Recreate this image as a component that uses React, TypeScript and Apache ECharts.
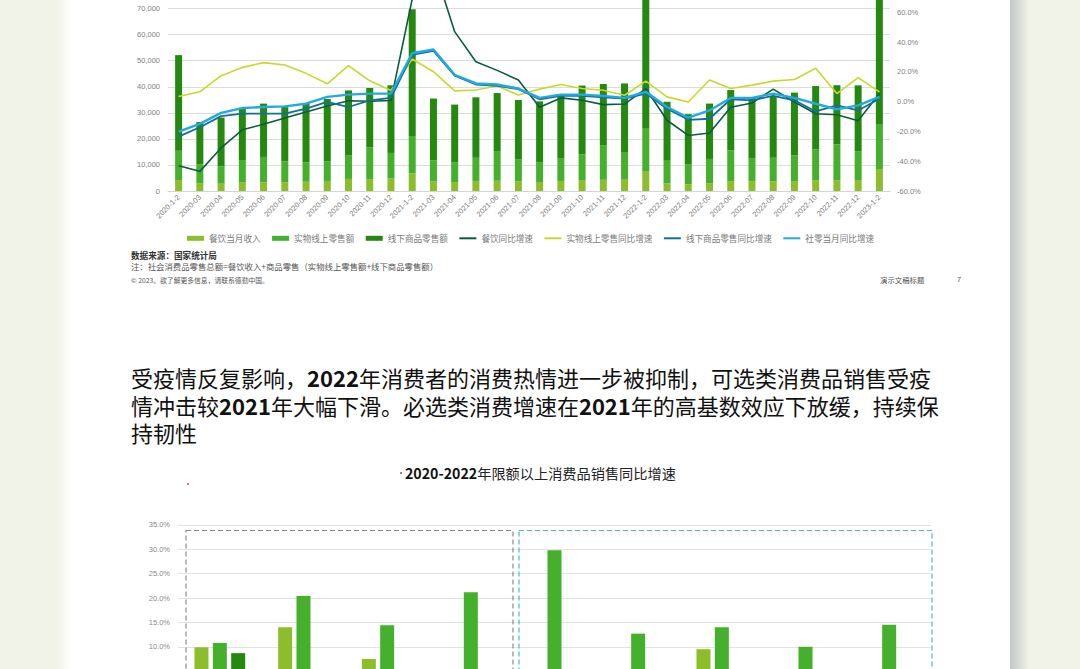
import React, { useEffect, useRef } from 'react';
import * as echarts from 'echarts';

// ---------- Chart 1 data (亿元 / %) ----------
const months = [
  '2020-1-2', '2020-03', '2020-04', '2020-05', '2020-06', '2020-07', '2020-08', '2020-09', '2020-10', '2020-11', '2020-12',
  '2021-1-2', '2021-03', '2021-04', '2021-05', '2021-06', '2021-07', '2021-08', '2021-09', '2021-10', '2021-11', '2021-12',
  '2022-1-2', '2022-03', '2022-04', '2022-05', '2022-06', '2022-07', '2022-08', '2022-09', '2022-10', '2022-11', '2022-12',
  '2023-1-2',
];
const cateringRev = [
  4194, 2862, 2807, 3342, 3325, 3305, 3555, 3852, 4624, 4545, 4803,
  6800, 3660, 3410, 3850, 3920, 3720, 3440, 3800, 4200, 4300, 4600,
  7400, 2900, 2600, 3000, 3800, 3750, 3750, 3800, 4150, 4100, 4200,
  8400,
];
const onlineRetail = [
  11233, 7300, 6660, 8540, 9740, 8020, 7430, 7540, 9140, 12170, 9800,
  14300, 8100, 7570, 8900, 11400, 8330, 7630, 8600, 9900, 13300, 10100,
  16500, 8700, 7540, 9300, 11800, 8650, 9000, 9900, 11800, 13800, 11100,
  17300,
];
const offlineRetail = [
  36703, 16288, 18711, 20091, 20461, 20878, 22586, 23903, 24812, 22799, 25963,
  48637, 23724, 22173, 23195, 22266, 22875, 23325, 24433, 26354, 23443, 26569,
  50526, 22633, 19343, 21247, 23142, 23470, 23508, 24045, 24321, 22700, 25242,
  51367,
];
const cateringYoY = [
  -43.1, -46.8, -31.1, -18.9, -15.2, -11.0, -7.0, -2.9, 0.6, 0.3, 0.8,
  68.9, 91.6, 47.0, 26.8, 21.0, 14.5, -3.8, 2.5, 0.9, -2.0, -1.6,
  8.8, -12.5, -22.7, -21.1, -3.8, -0.9, 8.4, -0.2, -8.1, -8.8, -12.8,
  5.4,
];
const onlineYoY = [
  3.4, 6.6, 17.4, 23.0, 26.2, 24.6, 19.0, 12.0, 24.2, 14.0, 7.5,
  28.6, 20.1, 7.2, 7.8, 10.5, 4.5, 8.4, 11.5, 8.8, 7.7, 4.3,
  13.8, 3.2, -0.2, 14.5, 8.8, 11.1, 13.8, 14.9, 22.4, 5.4, 16.1,
  6.6,
];
const offlineYoY = [
  -23.5, -17.2, -9.7, -8.1, -8.1, -8.1, -4.7, -0.2, -3.6, 0.9, 2.5,
  31.4, 34.1, 17.4, 11.5, 10.6, 8.4, 1.6, 3.9, 3.9, 2.9, 2.0,
  5.4, -4.7, -12.2, -11.5, 1.6, 0.9, 3.9, 0.9, -6.6, -2.5, -5.9,
  2.0,
];
const totalYoY = [
  -20.1, -14.9, -7.5, -4.3, -3.6, -3.2, -1.4, 3.2, 4.7, 5.4, 5.4,
  32.5, 35.0, 18.0, 12.2, 11.5, 8.8, 2.5, 4.7, 4.7, 3.9, 2.5,
  6.6, -3.6, -10.8, -5.9, 2.5, 2.5, 5.4, 2.5, -1.4, -5.2, -2.5,
  3.2,
];

// ---------- Chart 2 data (%) ----------
const goodsCats = ['粮油、食品类', '饮料类', '日用品类', '烟酒类', '金银珠宝类', '服装鞋帽、针纺织品类', '化妆品类', '家用电器和音像器材类', '家具类'];
const growth2020 = [9.9, 14.0, 7.5, -5.0, -4.7, -6.6, 9.5, -3.8, -7.0];
const growth2021 = [10.8, 20.4, 14.4, 21.2, 29.8, 12.7, 14.0, 10.0, 14.5];
const growth2022 = [8.7, 5.3, -0.7, 2.3, -1.1, -6.5, -4.5, -3.9, -7.5];

const C_OLIVE = '#8cbd2a';
const C_GREEN = '#45b02c';
const C_DARK = '#26890f';
const C_TEAL = '#0b5a41';
const C_YELLOW = '#c8d82c';
const C_BLUE = '#11709a';
const C_LBLUE = '#22a9df';

const FONT = '"Liberation Sans", "Noto Sans CJK SC", sans-serif';
const CJK = '"Noto Sans CJK SC", sans-serif';
const LINE_ICON = 'path://M0,0H34V4H0Z';

// the canvas is shifted up by OFF px (and extends below the window) so that
// both plots can run past the visible edges like in the reference crop
const OFF = 30;
const H = 790;

export default function App() {
  const ref = useRef<HTMLDivElement>(null);
  useEffect(() => {
    document.body.style.margin = '0';
    const chart = echarts.init(ref.current!, undefined, { renderer: 'svg' });
    const lineBase = (name: string, data: number[], color: string, width: number, z: number) => ({
      name, type: 'line', xAxisIndex: 0, yAxisIndex: 1, data, symbol: 'none', z,
      lineStyle: { color, width }, itemStyle: { color },
    });
    const Y = (v: number) => v + OFF;
    const para = (text: string, y: number) => ({
      type: 'text', x: 131, y: Y(y),
      style: {
        text, fontSize: 22, lineHeight: 24, fill: '#111', fontFamily: CJK, verticalAlign: 'middle',
        rich: { b: { fontWeight: 'bold', fontSize: 22, lineHeight: 24, fontFamily: CJK, fill: '#111' } },
      },
    });
    const option: any = {
      animation: false,
      backgroundColor: '#f1f2e8',
      textStyle: { fontFamily: FONT },
      grid: [
        { left: 168, top: Y(-17.5), width: 722, height: 208.5 },
        { left: 178, top: Y(524.8), width: 753, height: 219.6 },
      ],
      legend: {
        left: 187, top: Y(234), padding: 0, itemWidth: 17, itemHeight: 5, itemGap: 11.5,
        textStyle: { fontSize: 8.6, color: '#7a7a7a', fontFamily: CJK },
        data: [
          { name: '餐饮当月收入', icon: 'rect' },
          { name: '实物线上零售额', icon: 'rect' },
          { name: '线下商品零售额', icon: 'rect' },
          { name: '餐饮同比增速', icon: LINE_ICON },
          { name: '实物线上零售同比增速', icon: LINE_ICON },
          { name: '线下商品零售同比增速', icon: LINE_ICON },
          { name: '社零当月同比增速', icon: LINE_ICON },
        ],
      },
      xAxis: [
        {
          type: 'category', gridIndex: 0, data: months,
          axisLine: { lineStyle: { color: '#d4d4d4' } }, axisTick: { show: false },
          axisLabel: { interval: 0, rotate: 45, fontSize: 7.5, color: '#808080', margin: 5 },
        },
        {
          type: 'category', gridIndex: 1, data: goodsCats,
          axisLine: { show: false }, axisTick: { show: false }, axisLabel: { show: false },
        },
      ],
      yAxis: [
        {
          type: 'value', gridIndex: 0, min: 0, max: 80000, interval: 10000,
          axisLine: { show: false }, axisTick: { show: false },
          splitLine: { lineStyle: { color: '#dcdcdc' } },
          axisLabel: { showMaxLabel: false, fontSize: 7.5, color: '#808080', margin: 8, formatter: (v: number) => v.toLocaleString('en-US') },
        },
        {
          type: 'value', gridIndex: 0, position: 'right', min: -60, max: 80, interval: 20,
          axisLine: { show: false }, axisTick: { show: false }, splitLine: { show: false },
          axisLabel: { showMaxLabel: false, fontSize: 7.5, color: '#808080', margin: 7, formatter: (v: number) => v.toFixed(1) + '%' },
        },
        {
          type: 'value', gridIndex: 1, min: -10, max: 35, interval: 5,
          axisLine: { show: false }, axisTick: { show: false },
          splitLine: { lineStyle: { color: '#e2e2e2' } },
          axisLabel: { fontSize: 7.5, color: '#8a8a8a', margin: 8, formatter: (v: number) => (v >= 5 ? v.toFixed(1) + '%' : '') },
        },
      ],
      series: [
        { name: '餐饮当月收入', type: 'bar', stack: 'total', xAxisIndex: 0, yAxisIndex: 0, barWidth: 7, data: cateringRev, itemStyle: { color: C_OLIVE } },
        { name: '实物线上零售额', type: 'bar', stack: 'total', xAxisIndex: 0, yAxisIndex: 0, barWidth: 7, data: onlineRetail, itemStyle: { color: C_GREEN } },
        { name: '线下商品零售额', type: 'bar', stack: 'total', xAxisIndex: 0, yAxisIndex: 0, barWidth: 7, data: offlineRetail, itemStyle: { color: C_DARK } },
        lineBase('餐饮同比增速', cateringYoY, C_TEAL, 1.6, 5),
        lineBase('实物线上零售同比增速', onlineYoY, C_YELLOW, 1.6, 4),
        lineBase('线下商品零售同比增速', offlineYoY, C_BLUE, 1.8, 6),
        lineBase('社零当月同比增速', totalYoY, C_LBLUE, 2.4, 7),
        { name: '2020年', type: 'bar', xAxisIndex: 1, yAxisIndex: 2, barWidth: 14, barGap: '31%', data: growth2020, itemStyle: { color: C_OLIVE } },
        { name: '2021年', type: 'bar', xAxisIndex: 1, yAxisIndex: 2, barWidth: 14, barGap: '31%', data: growth2021, itemStyle: { color: C_GREEN } },
        { name: '2022年', type: 'bar', xAxisIndex: 1, yAxisIndex: 2, barWidth: 14, barGap: '31%', data: growth2022, itemStyle: { color: C_DARK } },
      ],
      graphic: [
        { type: 'rect', z: -100, silent: true, shape: { x: 70, y: 0, width: 942, height: H }, style: { fill: '#ffffff' } },
        {
          type: 'rect', z: -99, silent: true, shape: { x: 56, y: 0, width: 16, height: H },
          style: { fill: new echarts.graphic.LinearGradient(0, 0, 1, 0, [{ offset: 0, color: '#f1f2e8' }, { offset: 1, color: '#ffffff' }]) },
        },
        {
          type: 'rect', z: -99, silent: true, shape: { x: 1010, y: 0, width: 18, height: H },
          style: { fill: new echarts.graphic.LinearGradient(0, 0, 1, 0, [{ offset: 0, color: '#c2c8cb' }, { offset: 1, color: '#eef0e3' }]) },
        },
        { type: 'text', x: 131, y: Y(255), style: { text: '数据来源：国家统计局', fontSize: 8.6, fontWeight: 'bold', fill: '#333', fontFamily: CJK, verticalAlign: 'middle' } },
        { type: 'text', x: 131, y: Y(266), style: { text: '注：社会消费品零售总额=餐饮收入+商品零售（实物线上零售额+线下商品零售额）', fontSize: 8.4, fill: '#555', fontFamily: CJK, verticalAlign: 'middle' } },
        { type: 'text', x: 131, y: Y(279.5), style: { text: '© 2023。欲了解更多信息，请联系德勤中国。', fontSize: 6.8, fill: '#555', fontFamily: CJK, verticalAlign: 'middle' } },
        { type: 'text', x: 880, y: Y(279.5), style: { text: '演示文稿标题', fontSize: 7.4, fill: '#555', fontFamily: CJK, verticalAlign: 'middle' } },
        { type: 'text', x: 957, y: Y(279.5), style: { text: '7', fontSize: 7.4, fill: '#555', fontFamily: FONT, verticalAlign: 'middle' } },
        para('受疫情反复影响，{b|2022}年消费者的消费热情进一步被抑制，可选类消费品销售受疫', 377),
        para('情冲击较{b|2021}年大幅下滑。必选类消费增速在{b|2021}年的高基数效应下放缓，持续保', 405),
        para('持韧性', 432),
        { type: 'circle', shape: { cx: 401, cy: Y(473), r: 0.9 }, style: { fill: '#555' } },
        {
          type: 'text', x: 405, y: Y(473),
          style: {
            text: '{b|2020-2022}年限额以上消费品销售同比增速',
            fontSize: 14.2, fill: '#222', fontFamily: CJK, verticalAlign: 'middle',
            rich: { b: { fontWeight: 'bold', fontSize: 14.2, fontFamily: CJK, fill: '#111' } },
          },
        },
        { type: 'circle', shape: { cx: 188, cy: Y(484), r: 0.9 }, style: { fill: '#c0392b' } },
        { type: 'rect', z: 10, shape: { x: 186, y: Y(530.5), width: 327, height: 230 }, style: { fill: 'none', stroke: '#8a8a8a', lineWidth: 1.2, lineDash: [5, 3] } },
        { type: 'rect', z: 10, shape: { x: 519, y: Y(530.5), width: 413, height: 230 }, style: { fill: 'none', stroke: '#4db7c9', lineWidth: 1.2, lineDash: [5, 3] } },
      ],
    };
    chart.setOption(option);
    return () => chart.dispose();
  }, []);
  return <div ref={ref} style={{ position: 'fixed', left: 0, top: -OFF, width: 1080, height: H }} />;
}
